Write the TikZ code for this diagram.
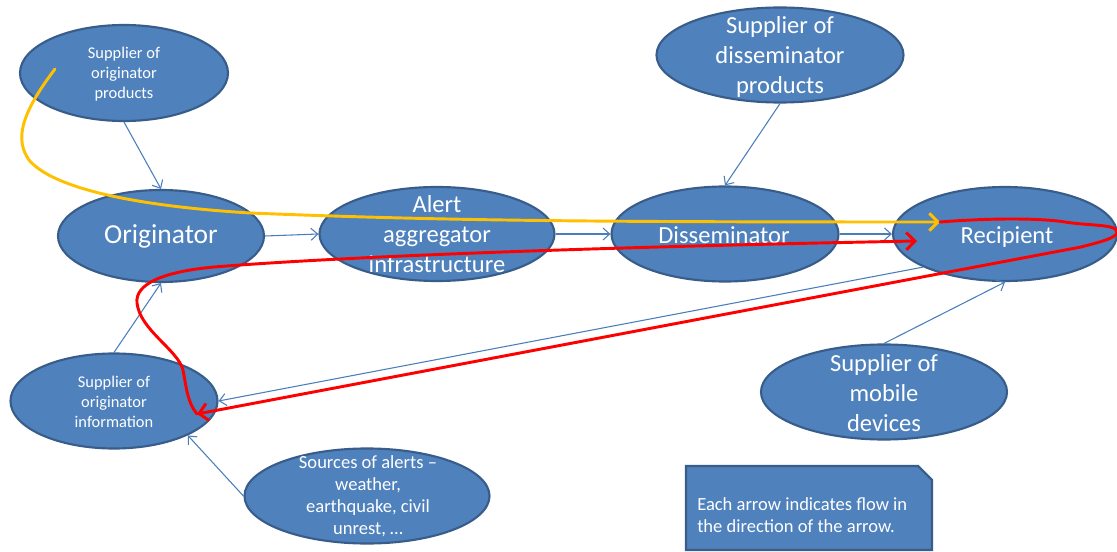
\documentclass[tikz,border=0pt]{standalone}
\usepackage{fontspec}
\setmainfont{Carlito}
\usetikzlibrary{shapes.geometric,arrows.meta}
\definecolor{ellfill}{HTML}{4F81BD}
\definecolor{ellline}{HTML}{385D8A}
\definecolor{connblue}{HTML}{4A7EBB}
\definecolor{ylw}{HTML}{FFC000}
\definecolor{rd}{HTML}{FF0000}
\begin{document}
\begin{tikzpicture}[x=0.75pt,y=-0.75pt,
  ell/.style 2 args={ellipse, draw=ellline, fill=ellfill, line width=1.6pt,
    minimum width=#1*0.75pt, minimum height=#2*0.75pt, inner sep=0pt},
  txt/.style={text=white, align=center, inner sep=0pt},
  fsmall/.style={font=\fontsize{12.3pt}{14.8pt}\selectfont},
  fmid/.style={font=\fontsize{13.9pt}{16.5pt}\selectfont},
  fbig/.style={font=\fontsize{18.4pt}{22.5pt}\selectfont},
  fhuge/.style={font=\fontsize{20.6pt}{24pt}\selectfont},
  conn/.style={draw=connblue, line width=0.8pt, -{Straight Barb[length=5pt,width=9pt]}},
  flowy/.style={draw=ylw, line width=2.2pt, line cap=round, -{Straight Barb[length=6.5pt,width=13pt]}},
  flowr/.style={draw=rd, line width=2.2pt, line cap=round, -{Straight Barb[length=6.5pt,width=13pt]}},
  notebox/.style={draw=ellline, fill=ellfill, line width=1.6pt}
]
\useasboundingbox (0,0) rectangle (1117,552);
\fill[white] (0,0) rectangle (1117,552);

% ellipses
\node[ell={208}{96}] (sop) at (124,73) {};
\node[ell={206}{92}] (orig) at (161,236) {};
\node[ell={235}{94}] (alert) at (437,234) {};
\node[ell={227}{95}] (dis) at (725,234) {};
\node[ell={224}{94}] (rec) at (1005,234) {};
\node[ell={247}{95}] (sdp) at (780,55) {};
\node[ell={207}{95}] (soi) at (114,401) {};
\node[ell={245}{95}] (src) at (367,496) {};
\node[ell={246}{95}] (mob) at (884,392) {};

% note box
\draw[notebox] (686,466) -- (918,466) -- (932,480) -- (932,550) -- (686,550) -- cycle;
\node[txt, fmid, align=left, anchor=west] (note) at (697,515)
  {Each arrow indicates flow in\\the direction of the arrow.};

% texts
\node[txt, fsmall] (tsop) at (124,74) {Supplier of\\originator\\products};
\node[txt, fhuge] (torig) at (161,236) {Originator};
\node[txt, fbig] (talert) at (437,234) {Alert\\aggregator\\infrastructure};
\node[txt, fbig] (tdis) at (724,235) {Disseminator};
\node[txt, fbig] (trec) at (1007,237) {Recipient};
\node[txt, fbig] (tsdp) at (780,57) {Supplier of\\disseminator\\products};
\node[txt, fsmall] (tsoi) at (114,402) {Supplier of\\originator\\information};
\node[txt, fmid] (tsrc) at (368,496) {Sources of alerts –\\weather,\\earthquake, civil\\unrest, …};
\node[txt, fbig] (tmob) at (884,393) {Supplier of\\mobile\\devices};

% blue connectors
\draw[conn] (sop.south) -- (orig.north);
\draw[conn] (orig.east) -- (alert.west);
\draw[conn] (alert.east) -- (dis.west);
\draw[conn] (dis.east) -- (rec.west);
\draw[conn] (sdp.south) -- (dis.north);
\draw[conn] (soi.north) -- (orig.south);
\draw[conn] (rec.202) -- (soi.east);
\draw[conn] (src.west) -- (soi.-25);
\draw[conn] (mob.north) -- (rec.south);

% freehand flows
\coordinate (ys) at (55,69);
\coordinate (ye) at (940,222);
\coordinate (rj) at (197,414);
\coordinate (re) at (917,241);
\draw[flowy] (ys) .. controls (20,115) and (15,140) .. (29,160)
  .. controls (50,185) and (120,205) .. (250,213)
  .. controls (450,221) and (600,222) .. (ye);
\draw[flowr] (ye) .. controls (990,218) and (1040,218) .. (1065,222)
  .. controls (1090,226) and (1117,224) .. (1117,232)
  .. controls (1117,238) and (1100,242) .. (1081,247) -- (rj);
\draw[flowr] (rj) .. controls (187,402) and (186,385) .. (183,370)
  .. controls (178,350) and (140,330) .. (137,303)
  .. controls (135,285) and (160,272) .. (214,267)
  .. controls (300,260) and (500,249) .. (re);
\end{tikzpicture}
\end{document}
